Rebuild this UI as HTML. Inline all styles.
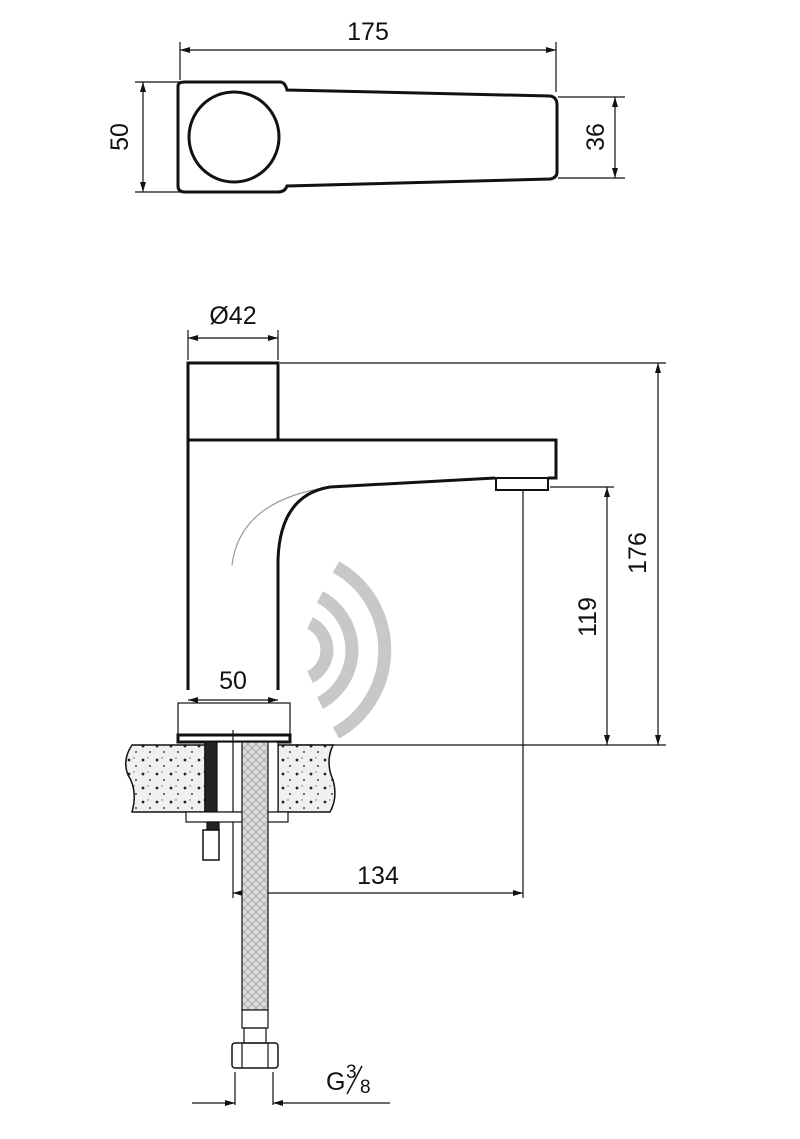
<!DOCTYPE html><html><head><style>body{margin:0;background:#fff}svg{display:block}text{font-family:"Liberation Sans",sans-serif;font-size:25px;fill:#111}</style></head><body>
<svg width="800" height="1139" viewBox="0 0 800 1139">
<defs>
<marker id="a" viewBox="0 0 10 6" refX="10" refY="3" markerWidth="14" markerHeight="6" orient="auto-start-reverse" markerUnits="userSpaceOnUse"><path d="M0,0L10,3L0,6z" fill="#111"/></marker>
<pattern id="g" width="14" height="14" patternUnits="userSpaceOnUse"><rect width="14" height="14" fill="#f0f0f0"/><circle cx="3" cy="4" r="1.4" fill="#222"/><circle cx="10" cy="10" r="1" fill="#444"/><circle cx="8" cy="2" r="0.7" fill="#666"/></pattern>
<pattern id="h" width="8" height="8" patternUnits="userSpaceOnUse"><rect width="8" height="8" fill="#ddd"/><path d="M0,8L8,0M0,0L8,8" stroke="#aaa" stroke-width="1"/></pattern>
</defs>
<g stroke="#111" fill="none" stroke-width="1.2">
<line x1="180" y1="42" x2="180" y2="80"/><line x1="556" y1="42" x2="556" y2="92"/>
<line x1="180" y1="50" x2="556" y2="50" marker-start="url(#a)" marker-end="url(#a)"/>
<line x1="135" y1="82" x2="180" y2="82"/><line x1="135" y1="192" x2="180" y2="192"/>
<line x1="143" y1="82" x2="143" y2="192" marker-start="url(#a)" marker-end="url(#a)"/>
<line x1="558" y1="97" x2="625" y2="97"/><line x1="558" y1="178" x2="625" y2="178"/>
<line x1="615" y1="97" x2="615" y2="178" marker-start="url(#a)" marker-end="url(#a)"/>
<g stroke-width="3">
<path d="M178,86 Q178,82 185,82 L280,82 Q285,82 287,90 L550,96 Q557,97 557,105 L557,172 Q557,178 550,179 L287,186 Q285,192 278,192 L185,192 Q178,192 178,186 Z"/>
<circle cx="234" cy="137" r="45"/>
</g>
<line x1="188" y1="330" x2="188" y2="360"/><line x1="278" y1="330" x2="278" y2="360"/>
<line x1="188" y1="338" x2="278" y2="338" marker-start="url(#a)" marker-end="url(#a)"/>
<line x1="280" y1="363" x2="666" y2="363"/><line x1="290" y1="745" x2="666" y2="745"/>
<line x1="658" y1="363" x2="658" y2="745" marker-start="url(#a)" marker-end="url(#a)"/>
<line x1="550" y1="487" x2="614" y2="487"/>
<line x1="607" y1="487" x2="607" y2="745" marker-start="url(#a)" marker-end="url(#a)"/>
<line x1="523" y1="490" x2="523" y2="898"/>
<line x1="233" y1="730" x2="233" y2="898"/>
<line x1="233" y1="893" x2="523" y2="893" marker-start="url(#a)" marker-end="url(#a)"/>
<line x1="188" y1="700" x2="278" y2="700" marker-start="url(#a)" marker-end="url(#a)"/>
<g stroke="#c8c8c8" stroke-width="13">
<path d="M336,567 A95,95 0 0 1 336,733"/>
<path d="M320,597 A60,60 0 0 1 320,703"/>
<path d="M310,623 A30,30 0 0 1 310,677"/>
</g>
<path d="M232,565 Q240,500 330,487" stroke="#999"/>
<g stroke-width="3">
<rect x="188" y="363" width="90" height="77"/>
<path d="M188,440 L556,440 L556,478 L548,478 M495,478 L330,487 Q280,495 278,560 L278,690 M188,440 L188,690"/>
<rect x="496" y="478" width="52" height="12" stroke-width="2"/>
</g>
<rect x="178" y="703" width="112" height="32"/>
<rect x="178" y="735" width="112" height="7" stroke-width="3"/>
<path d="M132,745 L205,745 L205,812 L132,812 Q138,790 128,775 Q122,760 132,745Z" fill="url(#g)" stroke-width="1.5"/>
<path d="M278,745 L333,745 Q325,762 333,780 Q338,798 330,812 L278,812Z" fill="url(#g)" stroke-width="1.5"/>
<rect x="205" y="742" width="73" height="70" fill="#fff"/>
<rect x="205" y="742" width="12" height="70" fill="#222"/>
<line x1="233" y1="742" x2="233" y2="812"/>
<rect x="186" y="812" width="102" height="10" fill="#fff"/>
<rect x="207" y="822" width="12" height="8" fill="#222"/>
<rect x="203" y="830" width="16" height="30" stroke-width="1.5"/>
<rect x="242" y="742" width="26" height="268" fill="url(#h)"/>
<rect x="242" y="1010" width="26" height="18" fill="#fff"/>
<rect x="244" y="1028" width="22" height="15"/>
<rect x="232" y="1043" width="46" height="25" rx="3" stroke-width="1.5"/>
<line x1="242" y1="1043" x2="242" y2="1068"/><line x1="268" y1="1043" x2="268" y2="1068"/>
<line x1="235" y1="1072" x2="235" y2="1105"/><line x1="273" y1="1072" x2="273" y2="1105"/>
<line x1="192" y1="1103" x2="235" y2="1103" marker-end="url(#a)"/>
<line x1="390" y1="1103" x2="273" y2="1103" marker-end="url(#a)"/>
</g>
<text x="368" y="40" text-anchor="middle">175</text>
<text transform="translate(128,137) rotate(-90)" text-anchor="middle">50</text>
<text transform="translate(604,137) rotate(-90)" text-anchor="middle">36</text>
<text x="233" y="324" text-anchor="middle">Ø42</text>
<text x="233" y="689" text-anchor="middle">50</text>
<text transform="translate(646,553) rotate(-90)" text-anchor="middle">176</text>
<text transform="translate(596,617) rotate(-90)" text-anchor="middle">119</text>
<text x="378" y="884" text-anchor="middle">134</text>
<text x="326" y="1090">G</text><text x="346" y="1078" style="font-size:19px">3</text>
<line x1="347" y1="1094" x2="362" y2="1066" stroke="#111" stroke-width="1.5"/>
<text x="360" y="1093" style="font-size:19px">8</text>
</svg></body></html>
